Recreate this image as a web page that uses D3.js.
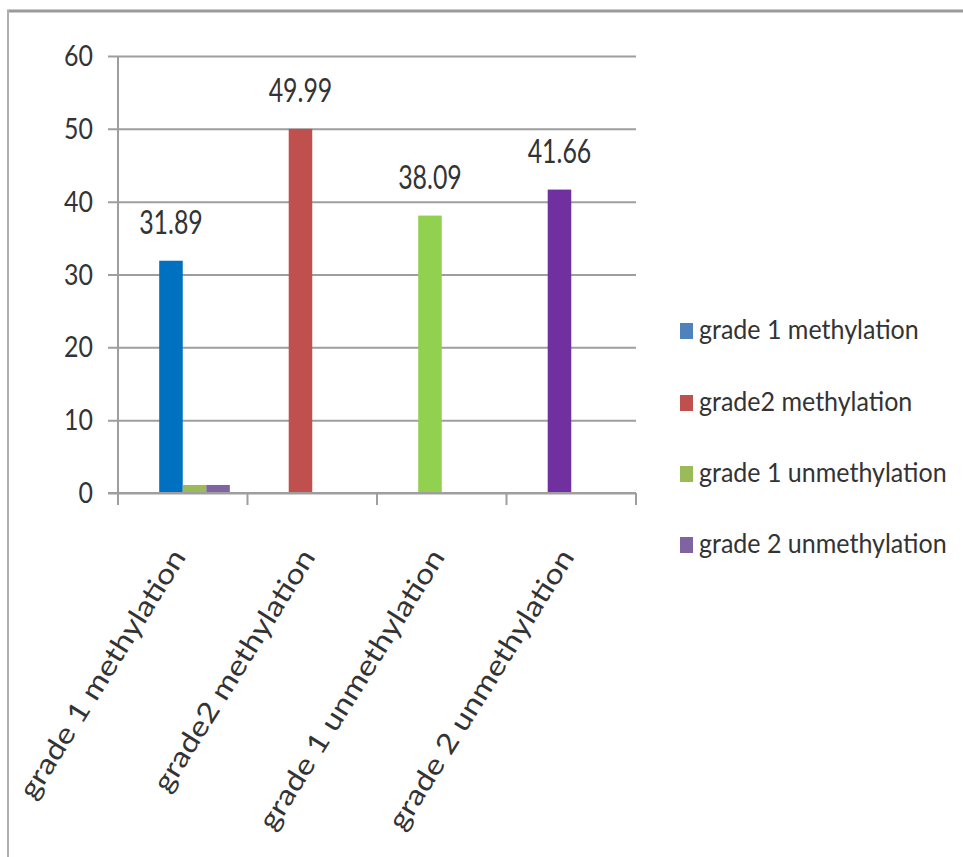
<!DOCTYPE html>
<html>
<head>
<meta charset="utf-8">
<script src="https://cdn.jsdelivr.net/npm/d3@7/dist/d3.min.js"></script>
<style>
  html, body { margin: 0; padding: 0; background: #fff; }
  svg { display: block; }
  text { font-family: Lato, "Open Sans", sans-serif; fill: #333333; }
</style>
</head>
<body>
<svg id="chart" width="963" height="857"></svg>
<script>
// ---- data ----
const categories = ["grade 1 methylation", "grade2 methylation", "grade 1 unmethylation", "grade 2 unmethylation"];
const legendLabels = ["grade 1 methylation", "grade2 methylation", "grade 1 unmethylation", "grade 2 unmethylation"];
const legendColors = ["#4F81BD", "#C0504D", "#9BBB59", "#8064A2"];
// four series slots per category (Excel clustered bars); slot 1 is empty
const slotKeys = ["s1", "s2", "s3", "s4"];
const slot1Values = [null, null, null, null];
const slot2Values = [31.89, 49.99, 38.09, 41.66];           // main bars, coloured per category
const slot2Colors = ["#0070C0", "#C0504D", "#92D050", "#7030A0"];
const slot3Values = [1.1, null, null, null];
const slot4Values = [1.1, null, null, null];
const slotColors = ["#4F81BD", null, "#9BBB59", "#8064A2"];
const yTicks = [0, 10, 20, 30, 40, 50, 60];

// ---- layout ----
const svg = d3.select("#chart");
const plot = { left: 118, right: 636, top: 56, bottom: 493 };

const x0 = d3.scaleBand().domain(categories).range([plot.left, plot.right]).padding(0);
const gapRatio = 1.5; // Excel gap width 150%
const x1 = d3.scaleBand().domain(slotKeys)
  .range([0, x0.bandwidth()])
  .paddingInner(0)
  .paddingOuter(gapRatio / 2);
const y = d3.scaleLinear().domain([0, 60]).range([plot.bottom, plot.top]);

// frame
svg.append("line").attr("x1", 7).attr("x2", 963).attr("y1", 11).attr("y2", 11)
  .attr("stroke", "#9a9a9a").attr("stroke-width", 3);
svg.append("line").attr("x1", 8).attr("x2", 8).attr("y1", 10).attr("y2", 857)
  .attr("stroke", "#b0b0b0").attr("stroke-width", 2);

// gridlines
const yAxis = d3.axisLeft(y).tickValues(yTicks).tickSize(-(plot.right - plot.left)).tickPadding(0).tickFormat("");
const gy = svg.append("g").attr("transform", `translate(${plot.left},0)`).call(yAxis);
gy.select(".domain").remove();
gy.selectAll(".tick line").attr("stroke", "#9e9e9e").attr("stroke-width", 2).attr("x1", -10);

// y axis line
svg.append("line").attr("x1", plot.left).attr("x2", plot.left).attr("y1", plot.top).attr("y2", plot.bottom)
  .attr("stroke", "#9e9e9e").attr("stroke-width", 2);

// y tick labels
svg.append("g").selectAll("text").data(yTicks).join("text")
  .attr("text-anchor", "end")
  .attr("font-size", 28)
  .attr("transform", d => `translate(93, ${y(d) + 10}) scale(0.89, 1.05)`)
  .text(d => d);

// x axis ticks
const xTickPos = categories.map(c => x0(c)).concat([plot.right]);
svg.append("g").selectAll("line").data(xTickPos).join("line")
  .attr("x1", d => d).attr("x2", d => d)
  .attr("y1", plot.bottom).attr("y2", plot.bottom + 12)
  .attr("stroke", "#9e9e9e").attr("stroke-width", 2);

// bars
const barData = [];
categories.forEach((c, i) => {
  const slots = [slot1Values[i], slot2Values[i], slot3Values[i], slot4Values[i]];
  slots.forEach((v, s) => {
    if (v == null) return;
    barData.push({ cat: c, slot: slotKeys[s], value: v,
      color: s === 1 ? slot2Colors[i] : slotColors[s], main: s === 1 });
  });
});
svg.append("g").selectAll("rect").data(barData).join("rect")
  .attr("x", d => x0(d.cat) + x1(d.slot))
  .attr("width", x1.bandwidth())
  .attr("y", d => y(d.value))
  .attr("height", d => y(0) - y(d.value))
  .attr("fill", d => d.color);

// x axis line
svg.append("line").attr("x1", plot.left - 10).attr("x2", plot.right).attr("y1", plot.bottom).attr("y2", plot.bottom)
  .attr("stroke", "#9e9e9e").attr("stroke-width", 2);

// value labels
svg.append("g").selectAll("text").data(barData.filter(d => d.main)).join("text")
  .attr("text-anchor", "middle")
  .attr("font-size", 30)
  .attr("transform", d => `translate(${x0(d.cat) + x1(d.slot) + x1.bandwidth() / 2}, ${y(d.value) - 27}) scale(0.83, 1.12)`)
  .text(d => d.value.toFixed(2));

// category labels (rotated)
svg.append("g").selectAll("text").data(categories).join("text")
  .attr("text-anchor", "end")
  .attr("font-size", 28)
  .attr("transform", d => `translate(${x0(d) + x0.bandwidth() / 2 + 4}, 557) rotate(-58) scale(1.17, 1)`)
  .text(d => d);

// legend
const legendY = [331, 403, 474, 545];
const lg = svg.append("g");
legendLabels.forEach((lab, i) => {
  lg.append("rect").attr("x", 680).attr("y", legendY[i] - 8).attr("width", 13).attr("height", 16)
    .attr("fill", legendColors[i]);
  lg.append("text").attr("transform", `translate(699, ${legendY[i] + 8}) scale(0.985, 1.05)`)
    .attr("font-size", 25.4).text(lab);
});
</script>
</body>
</html>
